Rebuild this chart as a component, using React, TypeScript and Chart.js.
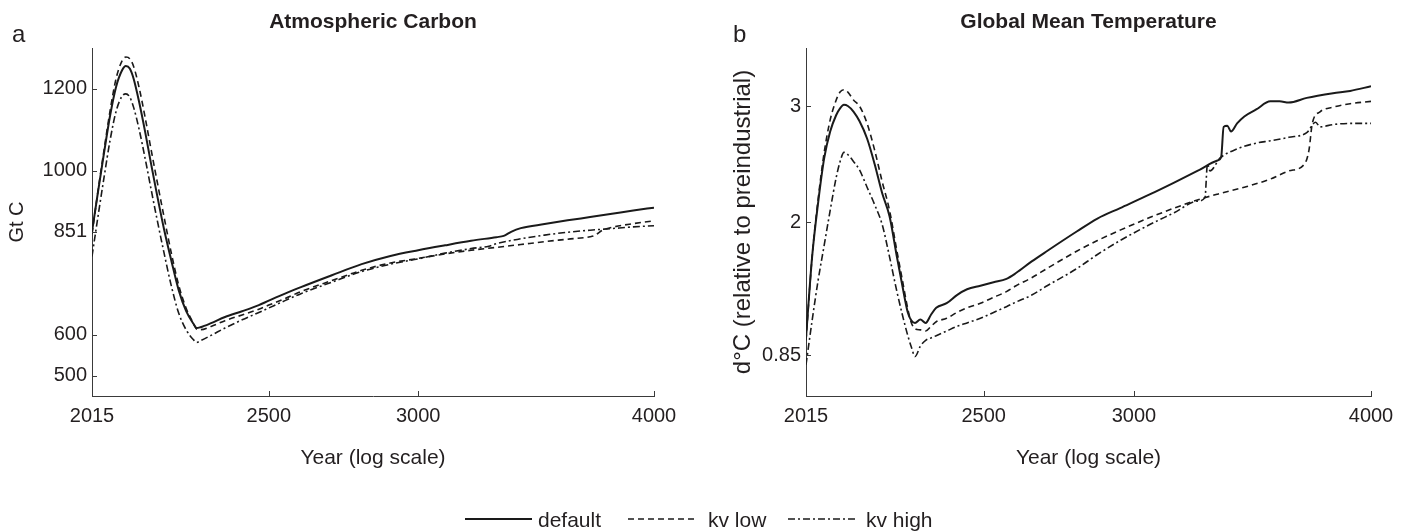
import React, { useEffect, useRef } from "react";
import { Chart, registerables } from "chart.js";
Chart.register(...registerables);

const FONT = "'Liberation Sans', Arial, Helvetica, sans-serif";
const INK = "#231f20";
const AXIS = "#3a3a3a";

// ---------- shared axis ticks ----------
const X_TICKS = [2015, 2500, 3000, 4000];
const CARBON_TICKS = [500, 600, 851, 1000, 1200];
const TEMP_TICKS = [0.85, 2, 3];

// ---------- Atmospheric Carbon (Gt C) ----------
const CARBON_DEFAULT_YEARS = [2015, 2030, 2045, 2060, 2075, 2090, 2100, 2110, 2120, 2135, 2150, 2165, 2180, 2200, 2220, 2240, 2260, 2280, 2290, 2300, 2330, 2370, 2420, 2470, 2500, 2550, 2600, 2700, 2800, 2900, 3000, 3100, 3200, 3300, 3330, 3360, 3400, 3500, 3600, 3700, 3800, 3900, 4000];
const CARBON_DEFAULT = [851, 950, 1045, 1135, 1205, 1245, 1256, 1250, 1225, 1165, 1095, 1020, 948, 858, 780, 708, 658, 627, 616, 618, 628, 643, 657, 672, 683, 700, 716, 745, 772, 792, 806, 818, 829, 838, 841, 851, 860, 870, 879, 887, 895, 903, 910];

const CARBON_KVLOW_YEARS = [2015, 2030, 2045, 2060, 2075, 2090, 2100, 2110, 2120, 2135, 2150, 2165, 2180, 2200, 2220, 2240, 2260, 2280, 2290, 2300, 2330, 2370, 2420, 2470, 2500, 2550, 2600, 2700, 2800, 2900, 3000, 3100, 3200, 3300, 3400, 3500, 3600, 3700, 3720, 3760, 3800, 3900, 4000];
const CARBON_KVLOW = [846, 952, 1052, 1147, 1225, 1268, 1278, 1274, 1255, 1200, 1130, 1055, 982, 888, 798, 720, 665, 628, 613, 612, 620, 634, 648, 662, 672, 688, 705, 732, 757, 775, 786, 797, 806, 813, 820, 827, 833, 839, 842, 856, 862, 871, 878];

const CARBON_KVHIGH_YEARS = [2015, 2030, 2045, 2060, 2075, 2090, 2100, 2110, 2120, 2135, 2150, 2165, 2180, 2200, 2220, 2240, 2260, 2280, 2290, 2300, 2330, 2370, 2420, 2470, 2500, 2550, 2600, 2700, 2800, 2900, 3000, 3100, 3200, 3270, 3300, 3400, 3500, 3600, 3700, 3800, 3900, 4000];
const CARBON_KVHIGH = [791, 890, 985, 1075, 1145, 1182, 1188, 1180, 1155, 1098, 1030, 958, 888, 800, 718, 652, 612, 588, 581, 585, 598, 616, 636, 654, 665, 683, 700, 728, 754, 772, 785, 799, 810, 816, 822, 834, 843, 850, 855, 859, 863, 866];

// ---------- Global Mean Temperature (d°C) ----------
const TEMP_DEFAULT_YEARS = [2015, 2030, 2045, 2060, 2075, 2090, 2100, 2110, 2120, 2135, 2150, 2170, 2190, 2210, 2230, 2250, 2265, 2280, 2290, 2300, 2315, 2330, 2345, 2360, 2390, 2420, 2450, 2490, 2530, 2570, 2600, 2650, 2700, 2800, 2870, 2950, 3060, 3150, 3240, 3320, 3335, 3345, 3360, 3375, 3400, 3430, 3480, 3540, 3580, 3620, 3700, 3820, 3900, 4000];
const TEMP_DEFAULT = [1.0, 1.7, 2.17, 2.55, 2.78, 2.92, 2.98, 3.01, 3.0, 2.95, 2.87, 2.72, 2.5, 2.25, 2.05, 1.7, 1.45, 1.22, 1.15, 1.13, 1.16, 1.13, 1.2, 1.26, 1.3, 1.37, 1.42, 1.45, 1.48, 1.51, 1.56, 1.66, 1.75, 1.92, 2.03, 2.12, 2.24, 2.34, 2.44, 2.53, 2.56, 2.82, 2.83, 2.78, 2.85, 2.91, 2.97, 3.04, 3.04, 3.03, 3.07, 3.11, 3.13, 3.17];

const TEMP_KVLOW_YEARS = [2015, 2030, 2045, 2060, 2075, 2090, 2100, 2110, 2120, 2135, 2150, 2170, 2190, 2210, 2230, 2250, 2265, 2280, 2290, 2300, 2315, 2330, 2345, 2360, 2390, 2420, 2450, 2490, 2530, 2570, 2600, 2650, 2700, 2800, 2870, 2950, 3060, 3150, 3240, 3320, 3430, 3540, 3620, 3690, 3710, 3725, 3760, 3820, 3900, 4000];
const TEMP_KVLOW = [0.98, 1.7, 2.2, 2.6, 2.88, 3.05, 3.12, 3.14, 3.12, 3.05, 3.0, 2.85, 2.62, 2.35, 2.1, 1.75, 1.5, 1.25, 1.13, 1.08, 1.07, 1.06, 1.1, 1.14, 1.17, 1.22, 1.26, 1.3, 1.35, 1.4, 1.45, 1.52, 1.6, 1.75, 1.84, 1.93, 2.04, 2.12, 2.19, 2.24, 2.3, 2.37, 2.44, 2.5, 2.62, 2.85, 2.95, 2.99, 3.02, 3.04];

const TEMP_KVHIGH_YEARS = [2015, 2030, 2045, 2060, 2075, 2090, 2100, 2110, 2120, 2135, 2150, 2170, 2190, 2210, 2230, 2250, 2265, 2280, 2290, 2300, 2315, 2330, 2345, 2360, 2390, 2420, 2450, 2490, 2530, 2570, 2600, 2650, 2700, 2800, 2870, 2950, 3060, 3150, 3240, 3270, 3280, 3290, 3330, 3400, 3480, 3540, 3620, 3700, 3740, 3760, 3820, 3900, 4000];
const TEMP_KVHIGH = [0.77, 1.15, 1.5, 1.8, 2.1, 2.38, 2.52, 2.6, 2.58, 2.52, 2.45, 2.3, 2.15, 1.98, 1.7, 1.4, 1.2, 1.02, 0.92, 0.84, 0.93, 0.98, 1.0, 1.02, 1.06, 1.1, 1.13, 1.17, 1.22, 1.27, 1.31, 1.37, 1.45, 1.6, 1.72, 1.84, 1.98, 2.08, 2.18, 2.21, 2.5, 2.44, 2.55, 2.63, 2.68, 2.7, 2.73, 2.77, 2.86, 2.82, 2.84, 2.85, 2.85];

const SERIES_NAMES = ["default", "kv low", "kv high"];
const DASHES: number[][] = [[], [6, 4], [7, 3, 2, 3]];
const WIDTHS = [2, 1.6, 1.6];

function pts(xs: number[], ys: number[]) {
  return xs.map((x, i) => ({ x, y: ys[i] }));
}

const panelDeco = {
  id: "panelDeco",
  afterDraw(chart: any, _args: any, opts: any) {
    const { ctx, chartArea, scales } = chart;
    const xs = scales.x;
    const ys = scales.y;
    ctx.save();
    ctx.strokeStyle = AXIS;
    ctx.lineWidth = 1;
    ctx.beginPath();
    xs.ticks.forEach((t: any) => {
      const px = Math.round(xs.getPixelForValue(t.value)) + 0.5;
      ctx.moveTo(px, chartArea.bottom);
      ctx.lineTo(px, chartArea.bottom - 5);
    });
    ys.ticks.forEach((t: any) => {
      const py = Math.round(ys.getPixelForValue(t.value)) + 0.5;
      ctx.moveTo(chartArea.left, py);
      ctx.lineTo(chartArea.left + 5, py);
    });
    ctx.stroke();
    ctx.fillStyle = INK;
    ctx.textBaseline = "middle";
    ctx.textAlign = "center";
    ctx.font = `bold 21px ${FONT}`;
    ctx.fillText(opts.title, (chartArea.left + chartArea.right) / 2, 22);
    ctx.textAlign = "left";
    ctx.font = `24px ${FONT}`;
    ctx.fillText(opts.letter, opts.letterX, 35);
    ctx.restore();
  },
};

type PanelSpec = {
  title: string;
  letter: string;
  letterX: number;
  yTitle: string;
  yTitleSize: number;
  yTitlePad: number;
  yWidth: number;
  padRight: number;
  yMin: number;
  yMax: number;
  yTicks: number[];
  series: { xs: number[]; ys: number[] }[];
};

function makeConfig(p: PanelSpec): any {
  return {
    type: "line",
    data: {
      datasets: p.series.map((s, i) => ({
        label: SERIES_NAMES[i],
        data: pts(s.xs, s.ys),
        borderColor: "#1a1a1a",
        borderWidth: WIDTHS[i],
        borderDash: DASHES[i],
        pointRadius: 0,
        fill: false,
        cubicInterpolationMode: "monotone",
      })),
    },
    options: {
      animation: false,
      responsive: false,
      events: [],
      layout: { padding: { left: 0, right: p.padRight, top: 48, bottom: 0 } },
      plugins: {
        legend: { display: false },
        tooltip: { enabled: false },
        panelDeco: { title: p.title, letter: p.letter, letterX: p.letterX },
      },
      scales: {
        x: {
          type: "logarithmic",
          min: 2015,
          max: 4000,
          afterBuildTicks: (s: any) => {
            s.ticks = X_TICKS.map((v) => ({ value: v }));
          },
          afterFit: (s: any) => {
            s.height = 94;
          },
          grid: { display: false, drawTicks: false },
          border: { display: true, color: AXIS, width: 1 },
          ticks: {
            callback: (v: any) => String(v),
            font: { family: FONT, size: 20 },
            color: INK,
            padding: 8,
            autoSkip: false,
            maxRotation: 0,
          },
          title: {
            display: true,
            text: "Year (log scale)",
            font: { family: FONT, size: 21 },
            color: INK,
            padding: { top: 0, bottom: 19 },
          },
        },
        y: {
          type: "linear",
          min: p.yMin,
          max: p.yMax,
          afterBuildTicks: (s: any) => {
            s.ticks = p.yTicks.map((v) => ({ value: v }));
          },
          afterFit: (s: any) => {
            s.width = p.yWidth;
          },
          grid: { display: false, drawTicks: false },
          border: { display: true, color: AXIS, width: 1 },
          ticks: {
            callback: (v: any) => String(v),
            font: { family: FONT, size: 20 },
            color: INK,
            padding: 5,
          },
          title: {
            display: true,
            text: p.yTitle,
            font: { family: FONT, size: p.yTitleSize },
            color: INK,
            padding: { top: p.yTitlePad, bottom: 0 },
          },
        },
      },
    },
    plugins: [panelDeco],
  };
}

function Panel({ left, width, height, spec }: { left: number; width: number; height: number; spec: PanelSpec }) {
  const ref = useRef<HTMLCanvasElement | null>(null);
  useEffect(() => {
    if (!ref.current) return;
    const chart = new Chart(ref.current, makeConfig(spec));
    return () => chart.destroy();
  }, []);
  return (
    <div style={{ position: "absolute", left, top: 0, width, height }}>
      <canvas ref={ref} width={width} height={height} style={{ display: "block" }} />
    </div>
  );
}

const carbonSpec: PanelSpec = {
  title: "Atmospheric Carbon",
  letter: "a",
  letterX: 12,
  yTitle: "Gt C",
  yTitleSize: 20,
  yTitlePad: 5,
  yWidth: 92,
  padRight: 46,
  yMin: 450,
  yMax: 1300,
  yTicks: CARBON_TICKS,
  series: [
    { xs: CARBON_DEFAULT_YEARS, ys: CARBON_DEFAULT },
    { xs: CARBON_KVLOW_YEARS, ys: CARBON_KVLOW },
    { xs: CARBON_KVHIGH_YEARS, ys: CARBON_KVHIGH },
  ],
};

const tempSpec: PanelSpec = {
  title: "Global Mean Temperature",
  letter: "b",
  letterX: 33,
  yTitle: "d°C (relative to preindustrial)",
  yTitleSize: 24,
  yTitlePad: 29,
  yWidth: 106,
  padRight: 38,
  yMin: 0.5,
  yMax: 3.5,
  yTicks: TEMP_TICKS,
  series: [
    { xs: TEMP_DEFAULT_YEARS, ys: TEMP_DEFAULT },
    { xs: TEMP_KVLOW_YEARS, ys: TEMP_KVLOW },
    { xs: TEMP_KVHIGH_YEARS, ys: TEMP_KVHIGH },
  ],
};

function Legend() {
  const y = 519;
  const items = [
    { x1: 465, x2: 532, tx: 538, dash: "" },
    { x1: 628, x2: 698, tx: 708, dash: "6 4" },
    { x1: 788, x2: 858, tx: 866, dash: "7 3 2 3" },
  ];
  return (
    <svg width={1409} height={531} style={{ position: "absolute", left: 0, top: 0, pointerEvents: "none" }}>
      {items.map((it, i) => (
        <g key={i}>
          <line x1={it.x1} x2={it.x2} y1={y} y2={y} stroke="#1a1a1a" strokeWidth={WIDTHS[i]} strokeDasharray={it.dash || undefined} />
          <text x={it.tx} y={y} dominantBaseline="central" fontFamily={FONT} fontSize={21} fill={INK}>
            {SERIES_NAMES[i]}
          </text>
        </g>
      ))}
    </svg>
  );
}

export default function App() {
  return (
    <div style={{ position: "absolute", left: 0, top: 0, width: 1409, height: 531, background: "#fff", overflow: "hidden" }}>
      <Panel left={0} width={700} height={490} spec={carbonSpec} />
      <Panel left={700} width={709} height={490} spec={tempSpec} />
      <Legend />
    </div>
  );
}
